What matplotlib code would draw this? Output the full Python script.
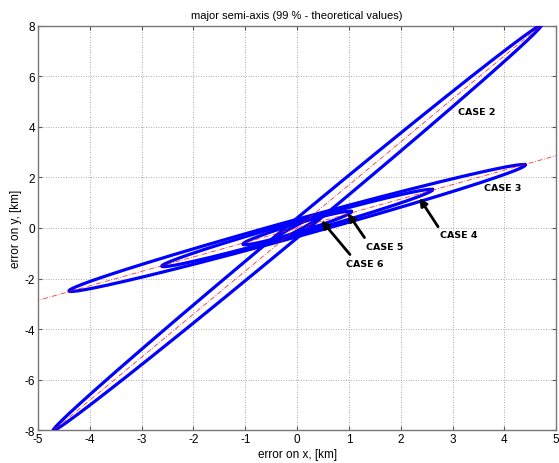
import numpy as np
import matplotlib
matplotlib.use("Agg")
import matplotlib.pyplot as plt

plt.rcParams['font.family'] = ['Liberation Sans', 'DejaVu Sans']
plt.rcParams['axes.unicode_minus'] = False

# ---- data ----
case_names = ["CASE 2", "CASE 3", "CASE 4", "CASE 5", "CASE 6"]
semi_major = [9.3, 5.06, 3.02, 1.23, 0.74]       # km
semi_minor = [0.2, 0.30, 0.22, 0.15, 0.08]       # km
angles_deg = [59.6, 29.6, 30.2, 32.0, 48.0]      # orientation of major axis
axis_line_angles = [59.6, 29.8]                  # red dash-dot major-axis lines

# label positions (x, y) and arrow tail/head for annotated cases
label_text = ["CASE 2", "CASE 3", "CASE 4", "CASE 5", "CASE 6"]
label_x = [3.1, 3.6, 2.75, 1.33, 0.95]
label_y = [4.6, 1.6, -0.25, -0.75, -1.4]
arrow_tail_x = [None, None, 2.72, 1.30, 1.02]
arrow_tail_y = [None, None, 0.05, -0.38, -1.05]
arrow_head_x = [None, None, 2.36, 0.98, 0.47]
arrow_head_y = [None, None, 1.18, 0.58, 0.30]

x_ticks = list(range(-5, 6))
y_ticks = list(range(-8, 9, 2))

fig = plt.figure(figsize=(5.59, 4.64), dpi=100)
ax = fig.add_axes([0.068, 0.071, 0.927, 0.871])

t = np.linspace(0, 2 * np.pi, 400)
for a, b, ang in zip(semi_major, semi_minor, angles_deg):
    th = np.deg2rad(ang)
    ex = a * np.cos(t)
    ey = b * np.sin(t)
    x = ex * np.cos(th) - ey * np.sin(th)
    y = ex * np.sin(th) + ey * np.cos(th)
    ax.plot(x, y, color=(0, 0, 1), lw=2.3, zorder=3)

s = np.linspace(-20, 20, 2)
for ang in axis_line_angles:
    th = np.deg2rad(ang)
    ax.plot(s * np.cos(th), s * np.sin(th), color='red', lw=0.6,
            ls=(0, (6, 2, 1, 2)), alpha=0.8, zorder=4)

for i, txt in enumerate(label_text):
    if arrow_tail_x[i] is not None:
        ax.annotate('', xy=(arrow_head_x[i], arrow_head_y[i]),
                    xytext=(arrow_tail_x[i], arrow_tail_y[i]),
                    arrowprops=dict(arrowstyle='-|>', color='k', lw=2.0,
                                    mutation_scale=11, shrinkA=0, shrinkB=0),
                    zorder=5)
    ax.text(label_x[i], label_y[i], txt, fontsize=6.8, fontweight='bold',
            family='DejaVu Sans', ha='left', va='center', zorder=6)

ax.set_xlim(-5, 5)
ax.set_ylim(-8, 8)
ax.set_xticks(x_ticks)
ax.set_yticks(y_ticks)
ax.grid(True, ls=(0, (1, 2)), color='#909090', lw=0.6)
ax.tick_params(direction='in', top=True, right=True, labelsize=8.5, length=3,
               color='#555555', pad=2)
for sp in ax.spines.values():
    sp.set_color('#777777')
    sp.set_linewidth(1.0)
ax.set_title('major semi-axis (99 % - theoretical values)', fontsize=8, pad=6)
ax.set_xlabel('error on x, [km]', fontsize=8.5, labelpad=2)
ax.set_ylabel('error on y, [km]', fontsize=8.5, labelpad=2)

fig.savefig('out.png', dpi=100)
